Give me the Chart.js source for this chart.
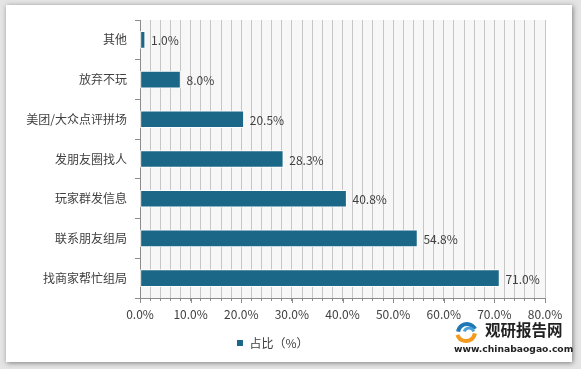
<!DOCTYPE html>
<html>
<head>
<meta charset="utf-8">
<script src="https://cdn.jsdelivr.net/npm/chart.js@4/dist/chart.umd.min.js"></script>
<style>
  body { margin: 0; }
  #wrap { position: relative; width: 581px; height: 369px; background: #e4e4e4; overflow: hidden; }
  #panel { position: absolute; left: 6px; top: 5px; width: 566px; height: 357px; background: #fff;
           box-shadow: 1px 1px 5px rgba(0,0,0,0.45); }
  #chart { position: absolute; left: 0; top: 0; }
</style>
</head>
<body>
<div id="wrap">
  <div id="panel"></div>
  <canvas id="chart" width="581" height="369"></canvas>
</div>
<script>
// data
const categories = ["其他", "放弃不玩", "美团/大众点评拼场", "发朋友圈找人", "玩家群发信息", "联系朋友组局", "找商家帮忙组局"];
const shares = [1.0, 8.0, 20.5, 28.3, 40.8, 54.8, 71.0];
const seriesName = "占比（%）";
const xMin = 0, xMax = 80, xStep = 2, labelStep = 10;

const barColor = "#1b6787";
const textColor = "#404040";
const font = "'Noto Sans CJK SC', 'Liberation Sans', sans-serif";

// plot background
const plotBg = {
  id: "plotBg",
  beforeDraw(chart) {
    const { ctx, chartArea: a } = chart;
    ctx.save();
    ctx.fillStyle = "#f7f7f7";
    ctx.fillRect(a.left, a.top, a.right - a.left, a.bottom - a.top);
    ctx.restore();
  },
};

// longer ticks at the labelled values
const majorTicks = {
  id: "majorTicks",
  afterDraw(chart) {
    const { ctx, scales } = chart;
    const x = scales.x;
    ctx.save();
    ctx.strokeStyle = "#8c8c8c";
    ctx.lineWidth = 1;
    for (let v = xMin; v <= xMax; v += labelStep) {
      const px = Math.round(x.getPixelForValue(v)) + 0.5;
      ctx.beginPath();
      ctx.moveTo(px, x.top);
      ctx.lineTo(px, x.top + 5);
      ctx.stroke();
    }
    ctx.restore();
  },
};

// value labels at bar ends
const barLabels = {
  id: "barLabels",
  afterDatasetsDraw(chart) {
    const { ctx } = chart;
    const meta = chart.getDatasetMeta(0);
    ctx.save();
    ctx.font = "12px " + font;
    ctx.fillStyle = textColor;
    ctx.textBaseline = "middle";
    meta.data.forEach((bar, i) => {
      ctx.fillText(shares[i].toFixed(1) + "%", bar.x + 6, bar.y + 1);
    });
    ctx.restore();
  },
};

// watermark
const watermark = {
  id: "watermark",
  afterDraw(chart) {
    const { ctx } = chart;
    ctx.save();
    // logo swirl
    ctx.lineWidth = 4;
    ctx.strokeStyle = "#1f78b4";
    ctx.beginPath();
    ctx.arc(467, 333, 9, Math.PI * 1.05, Math.PI * 1.85);
    ctx.stroke();
    ctx.strokeStyle = "#4aa3d8";
    ctx.lineWidth = 3;
    ctx.beginPath();
    ctx.arc(469, 333, 5, Math.PI * 1.1, Math.PI * 1.9);
    ctx.stroke();
    ctx.strokeStyle = "#f39a1e";
    ctx.lineWidth = 4;
    ctx.beginPath();
    ctx.arc(466, 332, 9, Math.PI * 0.05, Math.PI * 0.9);
    ctx.stroke();
    ctx.fillStyle = "#222";
    ctx.font = "bold 15.5px 'Noto Sans CJK SC', sans-serif";
    ctx.textBaseline = "middle";
    ctx.fillText("观研报告网", 485, 330);
    ctx.font = "bold 9.2px 'DejaVu Sans', sans-serif";
    ctx.fillText("www.chinabaogao.com", 454, 350);
    ctx.restore();
  },
};

new Chart(document.getElementById("chart"), {
  type: "bar",
  data: {
    labels: categories,
    datasets: [
      {
        label: seriesName,
        data: shares,
        backgroundColor: barColor,
        borderColor: "#ffffff",
        borderWidth: 1,
        borderSkipped: false,
        barThickness: 17,
      },
    ],
  },
  options: {
    indexAxis: "y",
    responsive: false,
    animation: false,
    layout: { padding: { top: 20, right: 36, bottom: 10, left: 0 } },
    scales: {
      x: {
        min: xMin,
        max: xMax,
        afterFit(scale) { scale.height = 29; },
        ticks: {
          stepSize: xStep,
          autoSkip: false,
          maxRotation: 0,
          padding: 6,
          color: textColor,
          font: { size: 12, family: font },
          callback: (v) => (v % labelStep === 0 ? v.toFixed(1) + "%" : ""),
        },
        grid: { color: "#c6c6c6", tickColor: "#8c8c8c", tickLength: 3 },
        border: { color: "#8c8c8c" },
      },
      y: {
        afterFit(scale) { scale.width = 140; },
        ticks: {
          padding: 8,
          color: textColor,
          font: { size: 12, family: font },
        },
        grid: { drawOnChartArea: false, tickColor: "#8c8c8c", tickLength: 5 },
        border: { color: "#8c8c8c" },
      },
    },
    plugins: {
      legend: {
        position: "bottom",
        labels: {
          boxWidth: 7,
          boxHeight: 7,
          padding: 10,
          color: textColor,
          font: { size: 12, family: font },
        },
      },
      tooltip: { enabled: false },
    },
  },
  plugins: [plotBg, majorTicks, barLabels, watermark],
});
</script>
</body>
</html>
